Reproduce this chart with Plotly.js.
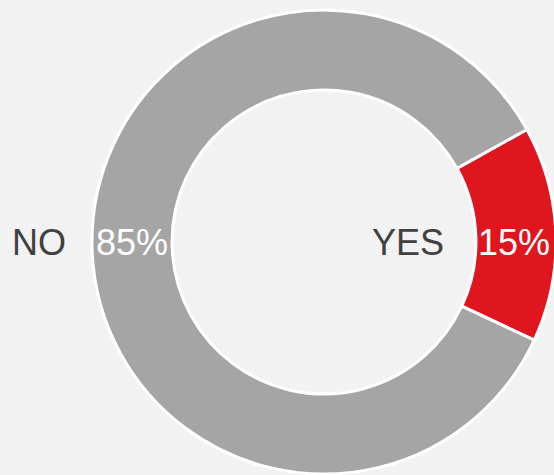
<!DOCTYPE html>
<html>
<head>
<meta charset="utf-8">
<script src="https://cdn.plot.ly/plotly-3.0.1.min.js"></script>
<style>
html,body{margin:0;padding:0;background:#f2f2f2;overflow:hidden;}
#chart{width:600px;height:475px;}
</style>
</head>
<body>
<div id="chart"></div>
<script>
var labels = ["YES", "NO"];
var values = [15, 85];
var colors = ["#e0161e", "#a5a5a5"];
var labelPositions = [{x: 408, y: 242}, {x: 39, y: 242}];
var percentPositions = [{x: 514, y: 242}, {x: 132, y: 242}];

var W = 600, H = 475;
var total = values.reduce(function (a, b) { return a + b; }, 0);

var trace = {
  type: "pie",
  labels: labels,
  values: values,
  hole: 0.655,
  sort: false,
  direction: "clockwise",
  rotation: 61,
  marker: {colors: colors, line: {color: "#ffffff", width: 3}},
  textinfo: "none",
  showlegend: false,
  hoverinfo: "label+percent",
  domain: {x: [(324 - 232) / W, (324 + 232) / W], y: [0, 1]}
};

function px(p) { return {x: p.x / W, y: 1 - (p.y - 10) / 464}; }

var annotations = [];
labels.forEach(function (l, i) {
  var a = px(labelPositions[i]);
  annotations.push({
    text: l, xref: "paper", yref: "paper", x: a.x, y: a.y,
    xanchor: "center", yanchor: "middle", showarrow: false,
    font: {family: "Liberation Sans, Arial, sans-serif", size: 36, color: "#404040"}
  });
  var b = px(percentPositions[i]);
  annotations.push({
    text: Math.round(values[i] / total * 100) + "%", xref: "paper", yref: "paper", x: b.x, y: b.y,
    xanchor: "center", yanchor: "middle", showarrow: false,
    font: {family: "Liberation Sans, Arial, sans-serif", size: 36, color: "#ffffff"}
  });
});

var layout = {
  width: W,
  height: H,
  margin: {l: 0, r: 0, t: 10, b: 1, pad: 0},
  paper_bgcolor: "#f2f2f2",
  plot_bgcolor: "#f2f2f2",
  annotations: annotations
};

Plotly.newPlot("chart", [trace], layout, {displayModeBar: false, staticPlot: true});
</script>
</body>
</html>
